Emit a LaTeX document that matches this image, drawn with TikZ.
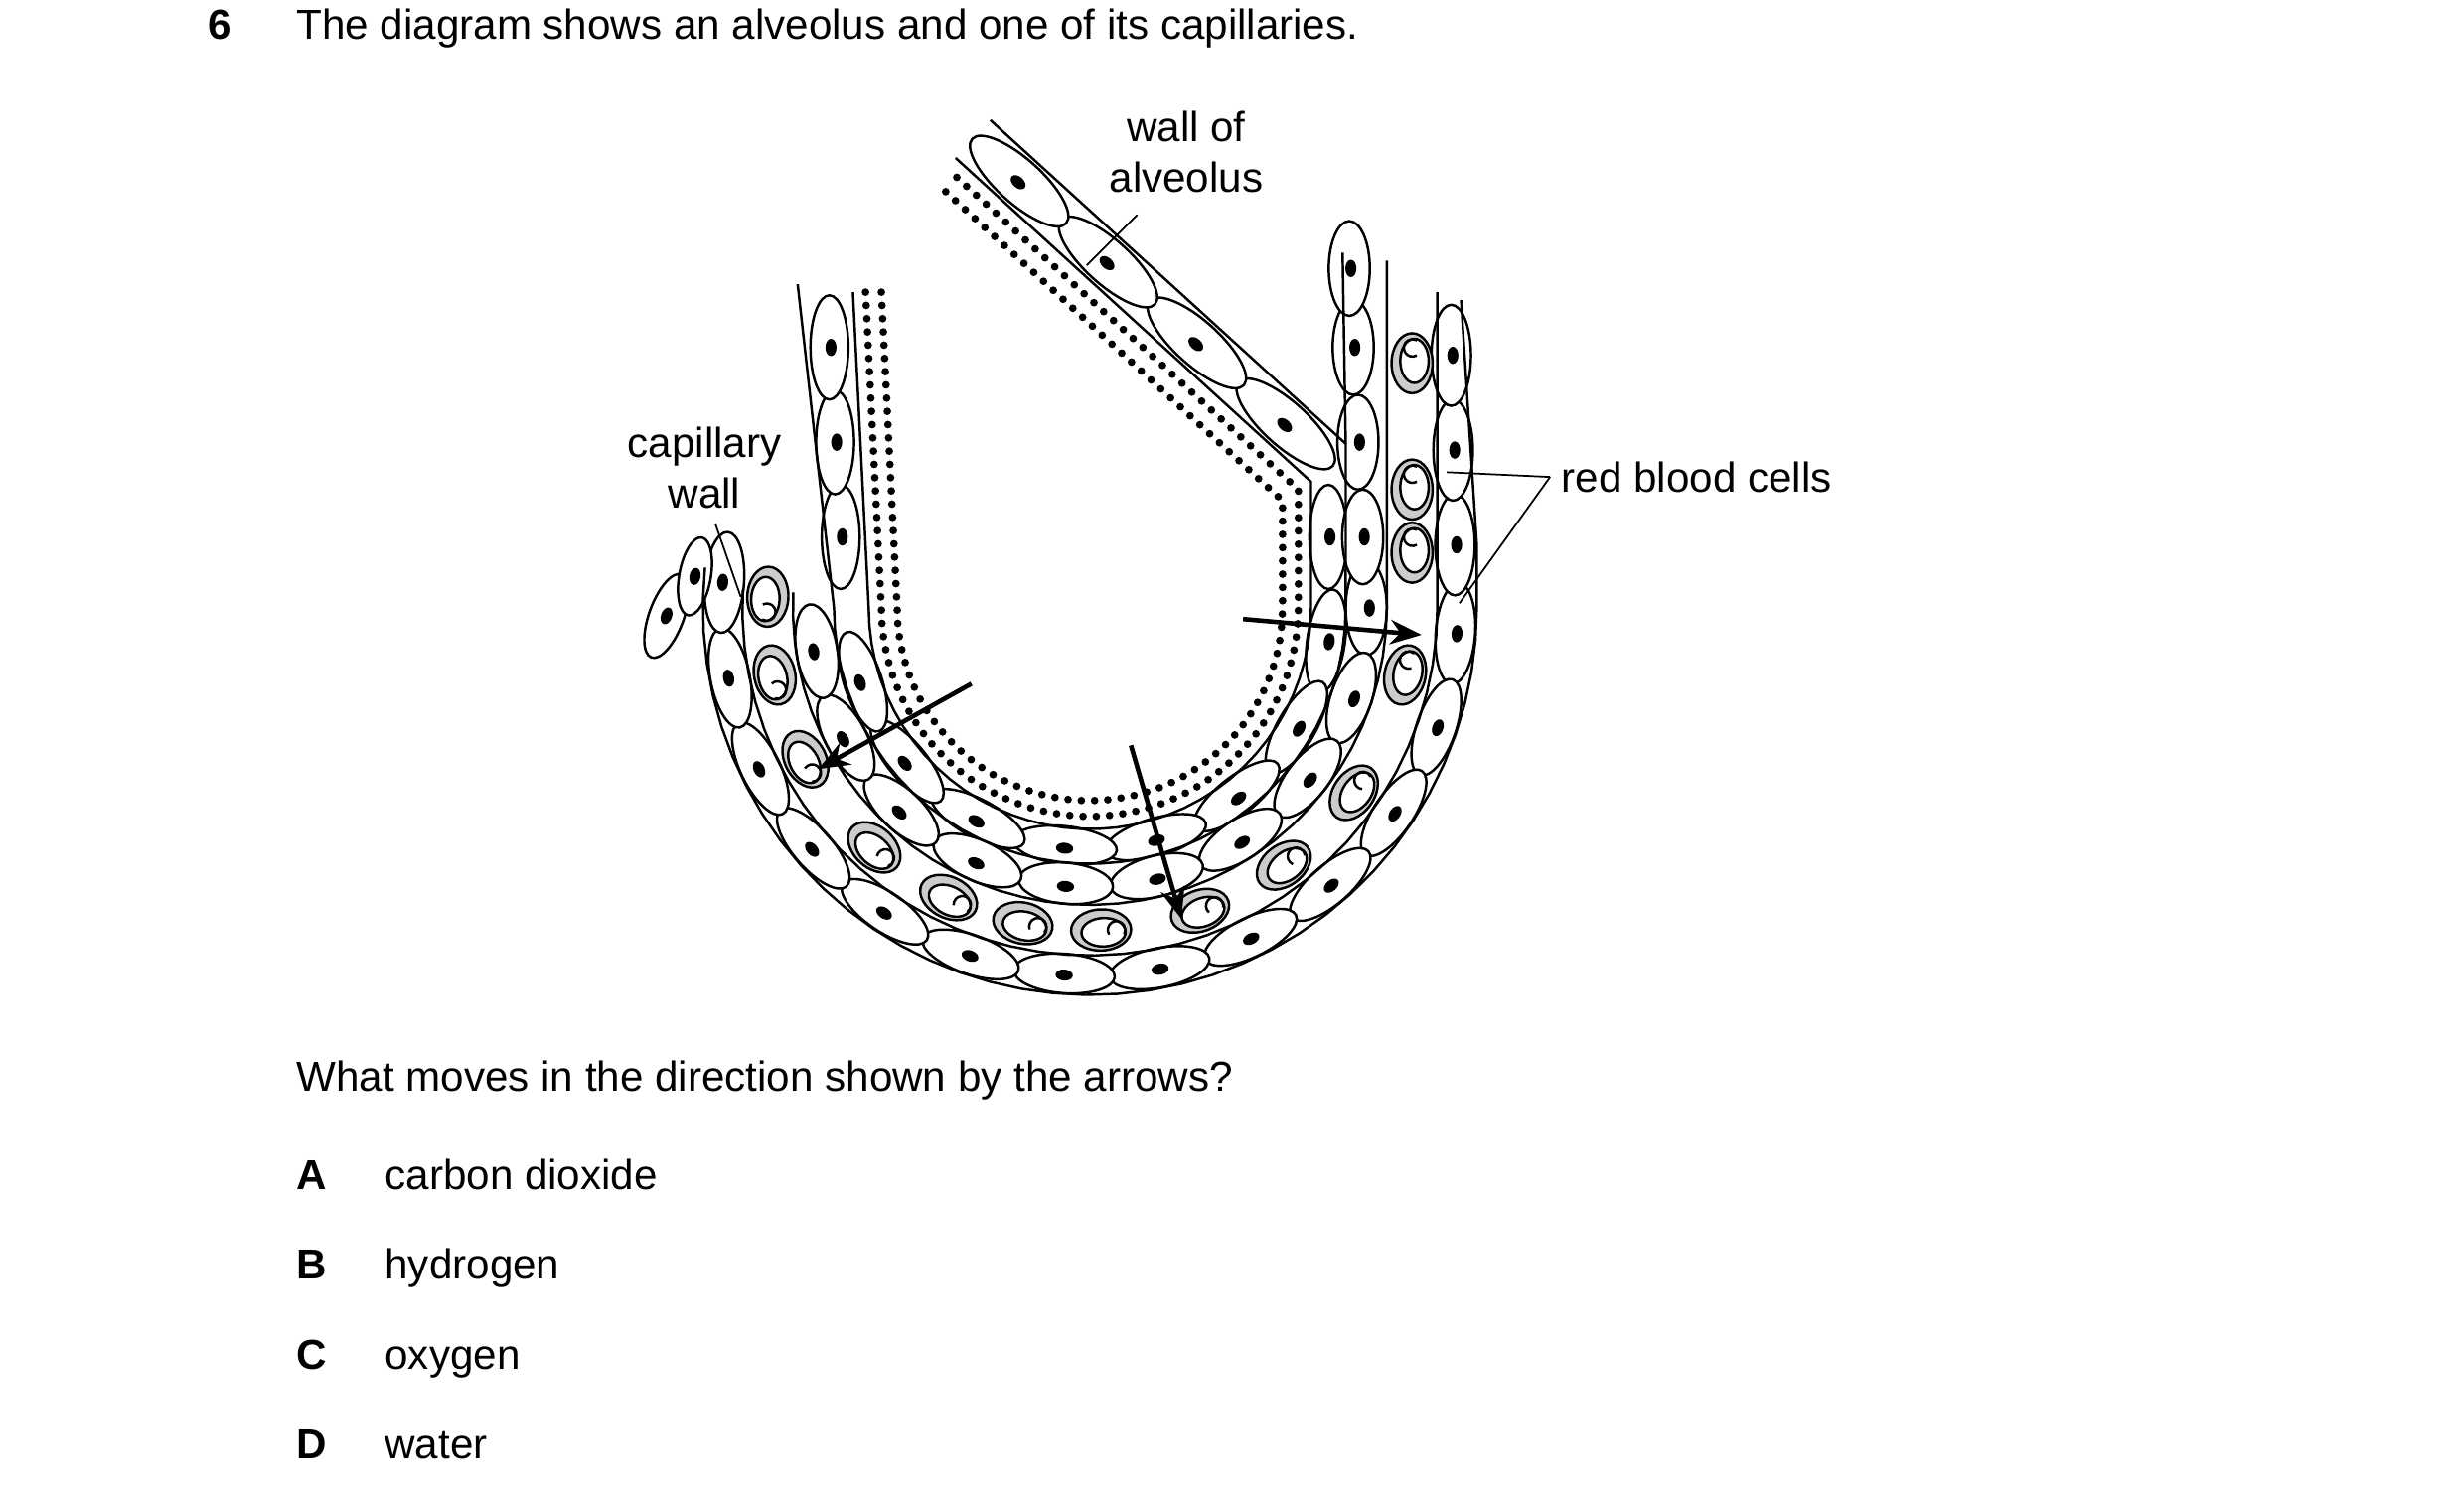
\documentclass[tikz,border=0pt]{standalone}
\usepackage{fontspec}
\setmainfont{Liberation Sans}
\usetikzlibrary{arrows.meta}

% one epithelial cell with its nucleus
\newcommand\cel[5]{%
  \begin{scope}[shift={(#1)},rotate=#2]
    \draw[fill=white] (0,0) ellipse[x radius=#3,y radius=#4];
    \fill (#5) ellipse[x radius=3.5,y radius=5.5];
  \end{scope}}
% one red blood cell
\newcommand\rbc[2]{%
  \begin{scope}[shift={(#1)},rotate=#2]
    \draw[fill=gray!40] (0,0) ellipse[x radius=13,y radius=19];
    \draw[fill=white] (1.5,-1.5) ellipse[x radius=9,y radius=14];
    \draw (3,-5) arc[start angle=60,end angle=300,radius=5.5];
  \end{scope}}

\tikzset{
  wall/.style={line width=0.7pt},
  dots/.style={line width=2.2pt,line cap=round,dash pattern=on 0pt off 3.8pt},
  lead/.style={line width=0.5pt},
  flow/.style={line width=1.3pt,-{Stealth[length=9pt,width=7pt]}},
  txt/.style={font=\fontsize{12}{14.5}\selectfont,inner sep=0pt}
}

\begin{document}
\begin{tikzpicture}[x=0.0159cm,y=-0.0159cm,line width=0.7pt]
\useasboundingbox (0,0) rectangle (1560,946);

% question
\node[txt,anchor=base west,font=\fontsize{12}{14.5}\selectfont\bfseries] (num) at (131,25) {6};
\node[txt,anchor=base west] (q) at (187,25) {The diagram shows an alveolus and one of its capillaries.};

\begin{scope}[shift={(690,385)}]
  % dotted lining of the alveolus
  \draw[dots] (-142,-200) -- (-132,0) -- plot[variable=\t,domain=180:0,samples=40] (\t:132) -- (132,-75) -- (-90,-278);
  \draw[dots] (-132,-200) -- (-122,0) -- plot[variable=\t,domain=180:0,samples=40] (\t:122) -- (122,-68) -- (-96,-268);

  % cells of the alveolus wall
  \foreach \a in {8,30,...,180} {\cel{\a:151}{-\a}{12}{33}{2,0}}
  \foreach \y in {-45,-105,-165} {\cel{-155+\y*0.06,\y}{0}{12}{33}{1,0}}
  \cel{151,-45}{0}{12}{33}{1,0}
  \foreach \f in {0.12,0.37,0.62,0.87} {\cel{151-225*\f,-92-205*\f}{-132}{14}{40}{1,0}}

  % capillary walls
  \foreach \a in {0,19,...,185} {\cel{\a:175}{-\a}{13}{30}{2,0}}
  \foreach \a in {4,19,...,185} {\cel{\a:232}{-\a}{12.5}{32}{1,0}}
  \foreach \y in {-45,-105,-165,-215} {\cel{175+\y*0.05,\y}{0}{13}{30}{1,0}}
  \foreach \y in {-40,-100,-160} {\cel{232+\y*0.02,\y}{0}{12.5}{32}{1,0}}
  \cel{-268,5}{-200}{11}{28}{0,0}
  \cel{-250,-20}{-190}{10}{25}{0,0}

  % red blood cells
  \foreach \a in {12,35,53,70,88,102,116,132,152,168,182} {\rbc{\a:204}{-\a}}
  \foreach \y in {-35,-75,-155} {\rbc{204,\y}{0}}

  % outlines
  \draw[wall] (-150,-200) -- (-140,0) -- plot[variable=\t,domain=180:0,samples=40] (\t:140) -- (140,-80) -- (-85,-285);
  \draw[wall] (-185,-205) -- (-162,0) -- plot[variable=\t,domain=180:0,samples=40] (\t:162) -- (162,-104) -- (-63,-309);
  \draw[wall] plot[variable=\t,domain=183:0,samples=40] (\t:188) -- (188,-220);
  \draw[wall] plot[variable=\t,domain=183:0,samples=40] (\t:220) -- (220,-200);
  \draw[wall] plot[variable=\t,domain=186:0,samples=40] (\t:245) -- (245,-40) -- (235,-195);
  \draw[wall] (162,-104) -- (160,-225);
\end{scope}

% arrows
\coordinate (a1) at (615,433); \coordinate (b1) at (518,487);
\coordinate (a2) at (787,392); \coordinate (b2) at (900,402);
\coordinate (a3) at (716,472); \coordinate (b3) at (748,582);
\draw[flow] (a1) -- (b1);
\draw[flow] (a2) -- (b2);
\draw[flow] (a3) -- (b3);

% labels
\node[txt,align=center] (walv) at (751,96) {wall of\\alveolus};
\coordinate (walvend) at (688,168);
\draw[lead] (720,136) -- (walvend);
\node[txt,align=center] (cwall) at (446,296) {capillary\\wall};
\coordinate (cwallend) at (469,378);
\draw[lead] (453,332) -- (cwallend);
\node[txt,anchor=west] (rbcs) at (988,302) {red blood cells};
\coordinate (r1) at (916,299); \coordinate (r2) at (924,382);
\draw[lead] ([xshift=-3pt]rbcs.west) -- (r1);
\draw[lead] ([xshift=-3pt]rbcs.west) -- (r2);

% answers
\node[txt,anchor=base west] (ask) at (187,691) {What moves in the direction shown by the arrows?};
\foreach \l/\t [count=\i] in {A/carbon dioxide,B/hydrogen,C/oxygen,D/water} {
  \node[txt,anchor=base west,font=\fontsize{12}{14.5}\selectfont\bfseries] (opt\l) at (187,696+57*\i) {\l};
  \node[txt,anchor=base west] (ans\l) at (243,696+57*\i) {\t};
}
\end{tikzpicture}
\end{document}
